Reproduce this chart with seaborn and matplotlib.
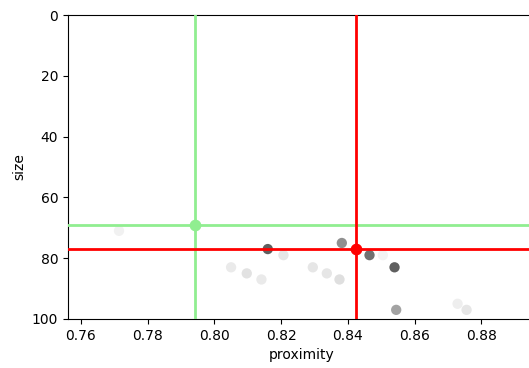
import matplotlib
matplotlib.use("Agg")
import matplotlib.pyplot as plt
import pandas as pd
import seaborn as sns

# data
proximity = [0.7714, 0.8050, 0.8097, 0.8141, 0.8160, 0.8207, 0.8295, 0.8337,
             0.8375, 0.8382, 0.8465, 0.8505, 0.8540, 0.8545, 0.8729, 0.8756]
size = [71, 83, 85, 87, 77, 79, 83, 85, 87, 75, 79, 79, 83, 97, 95, 97]
shade = [0.12, 0.16, 0.20, 0.16, 0.70, 0.18, 0.18, 0.18,
         0.22, 0.52, 0.63, 0.10, 0.70, 0.46, 0.14, 0.18]

green_pt = (0.7942, 69)
red_pt = (0.8424, 77)

df = pd.DataFrame({'proximity': proximity, 'size': size, 'shade': shade})

fig = plt.figure(figsize=(5.29, 3.68), dpi=100)
ax = fig.add_axes([0.1285, 0.1332, 0.8815, 0.826])

sns.scatterplot(data=df, x='proximity', y='size', hue='shade', palette='Greys',
                hue_norm=(0, 1), s=55, edgecolor='none', legend=False, ax=ax)

ax.axvline(green_pt[0], color='lightgreen', lw=2, zorder=3)
ax.axhline(green_pt[1], color='lightgreen', lw=2, zorder=3)
ax.scatter([green_pt[0]], [green_pt[1]], color='lightgreen', s=55, zorder=4)

ax.axvline(red_pt[0], color='red', lw=2, zorder=3)
ax.axhline(red_pt[1], color='red', lw=2, zorder=3)
ax.scatter([red_pt[0]], [red_pt[1]], color='red', s=55, zorder=4)

ax.set_xlim(0.7561, 0.8959)
ax.set_ylim(100, 0)
ax.set_xticks([0.76, 0.78, 0.80, 0.82, 0.84, 0.86, 0.88])
ax.set_yticks([0, 20, 40, 60, 80, 100])
ax.set_xlabel('proximity')
ax.set_ylabel('size')

fig.savefig('out.png', dpi=100)
